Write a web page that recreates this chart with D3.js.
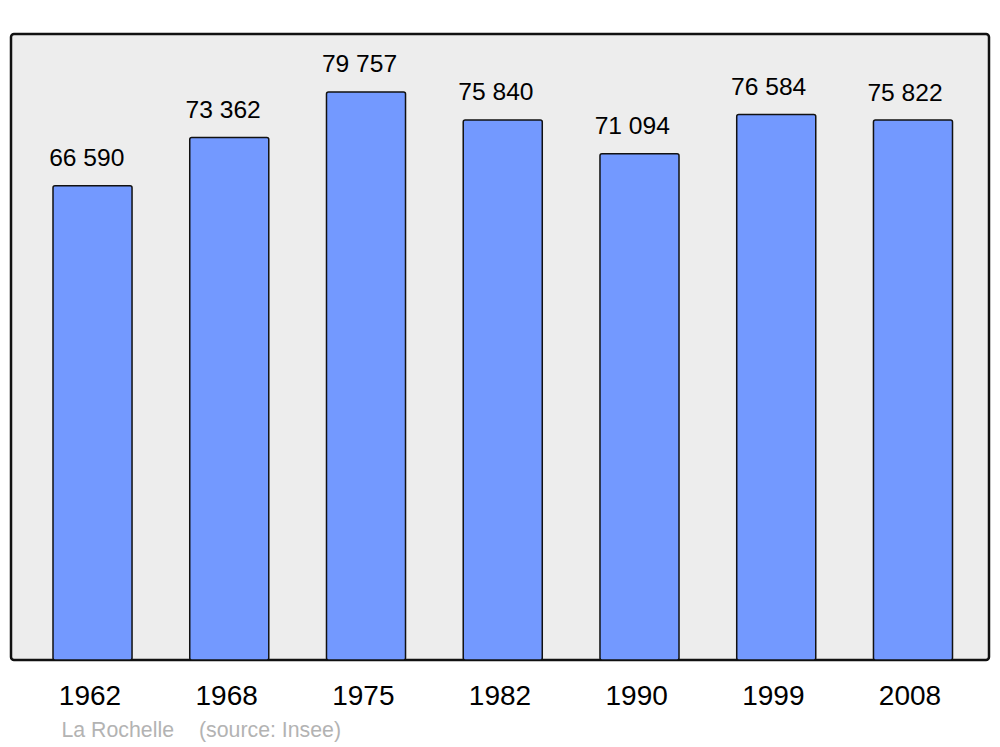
<!DOCTYPE html>
<html><head><meta charset="utf-8">
<script src="https://cdn.jsdelivr.net/npm/d3@7"></script>
<style>html,body{margin:0;padding:0;background:#fff;}svg{display:block;font-family:"Liberation Sans",Arial,sans-serif;}</style>
</head><body>
<svg id="c" width="1000" height="747"></svg>
<script>
const years = ["1962","1968","1975","1982","1990","1999","2008"];
const population = [66590, 73362, 79757, 75840, 71094, 76584, 75822];
const labels = ["66 590","73 362","79 757","75 840","71 094","76 584","75 822"];
const footer = ["La Rochelle", "(source: Insee)"];

const svg = d3.select("#c");
const x = d3.scaleBand().domain(years).range([53, 952.5]).paddingInner(0.422).paddingOuter(0);
const xYear = d3.scalePoint().domain(years).range([89.5, 909.5]);
const xVal = d3.scalePoint().domain(years).range([86.8, 905]);
const y = d3.scaleLinear().domain([0, 87900]).range([660, 34]);

svg.append("rect").attr("x", 11).attr("y", 34).attr("width", 978).attr("height", 626)
  .attr("rx", 3).attr("fill", "#ededed").attr("stroke", "#111").attr("stroke-width", 2.5);

const data = years.map((d, i) => ({year: d, v: population[i], l: labels[i]}));

svg.selectAll("rect.bar").data(data).enter().append("rect").attr("class", "bar")
  .attr("x", d => x(d.year)).attr("width", x.bandwidth())
  .attr("y", d => y(d.v)).attr("height", d => y(0) - y(d.v))
  .attr("rx", 2).attr("fill", "#7399ff").attr("stroke", "#111").attr("stroke-width", 1.5);

svg.selectAll("text.val").data(data).enter().append("text").attr("class", "val")
  .attr("x", d => xVal(d.year))
  .attr("y", d => y(d.v) - 19.5)
  .attr("text-anchor", "middle").attr("font-size", 24.6).attr("fill", "#000")
  .text(d => d.l);

const xAxis = d3.axisBottom(xYear).tickSize(0).tickPadding(0);
const gx = svg.append("g").call(xAxis);
gx.select(".domain").remove();
gx.selectAll("text").attr("y", 705).attr("dy", null).attr("font-size", 28)
  .attr("font-family", "'Liberation Sans',Arial,sans-serif").attr("fill", "#000");

svg.append("text").attr("x", 61.5).attr("y", 737).attr("font-size", 21.3).attr("fill", "#b3b3b3").text(footer[0]);
svg.append("text").attr("x", 199).attr("y", 737).attr("font-size", 21.3).attr("fill", "#b3b3b3").text(footer[1]);
</script>
</body></html>
